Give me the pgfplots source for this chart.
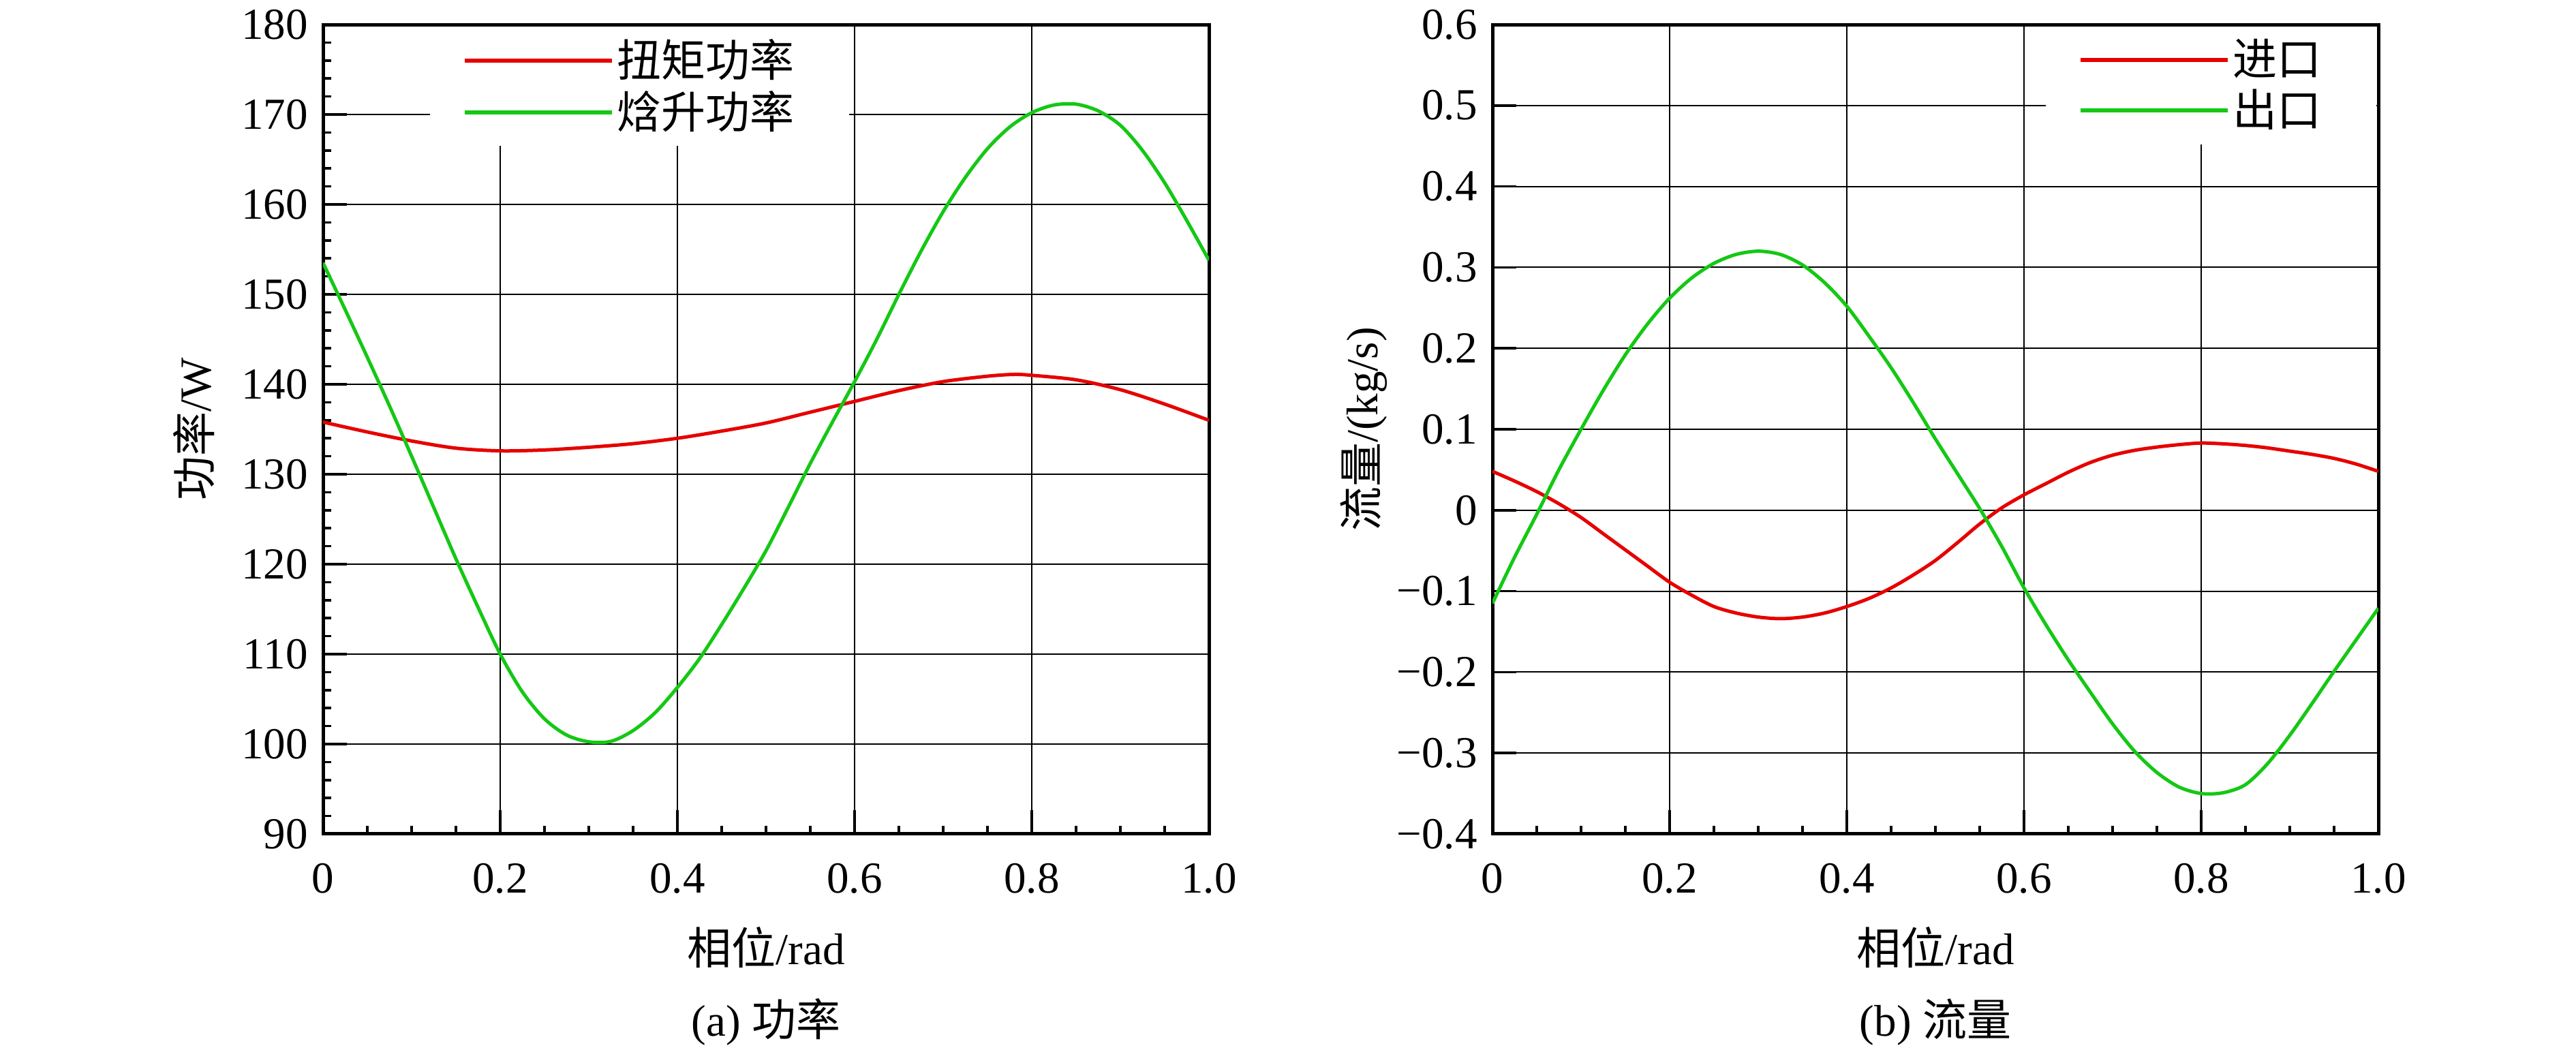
\documentclass[border=0pt]{standalone}
\usepackage{pgfplots}
\pgfplotsset{compat=1.18}
\usepackage{fontspec}
\setmainfont{Liberation Serif}
\newfontfamily\cjk{Noto Sans CJK SC}
\definecolor{cred}{RGB}{230,0,0}
\definecolor{cgreen}{RGB}{20,200,20}
\pgfplotsset{
 myaxis/.style={
  scale only axis, width=130mm, height=118.8mm, anchor=south west,
  xmin=0, xmax=1, xtick={0,0.2,0.4,0.6,0.8,1}, xticklabels={0,0.2,0.4,0.6,0.8,1.0},
  minor x tick num=3,
  tick pos=left, tick align=inside,
  major tick length=3.5mm, minor tick length=1.2mm,
  tick style={black, line width=0.35mm},
  grid=major, major grid style={black, line width=0.2mm},
  axis line style={line width=0.5mm},
  xticklabel style={yshift=-2.1mm},
  xlabel={{\cjk 相位}/rad},
  xlabel style={at={(axis description cs:0.5,0)}, anchor=center, yshift=-16.7mm},
  ylabel style={at={(axis description cs:-0.1454,0.5)}, anchor=center},
  legend cell align=left,
  legend image code/.code={\draw[##1, line width=0.6mm] (0mm,0mm) -- (21.6mm,0mm);},
  legend style={draw=none, fill=white, inner xsep=4.8mm, inner ysep=1.3mm, row sep=0.3mm,
    nodes={inner sep=0.5mm, text depth=0.12em},
    /tikz/every even column/.append style={column sep=1.9mm}},
 }
}
\begin{document}
\fontsize{18.5pt}{22pt}\selectfont
\begin{tikzpicture}
\path[use as bounding box] (0,0) rectangle (378mm,154.1mm);
\begin{axis}[myaxis, at={(47.4mm,31.7mm)},
  ymin=90, ymax=180, ytick={90,100,110,120,130,140,150,160,170,180},
  yticklabels={90,100,110,120,130,140,150,160,170,180},
  minor y tick num=4,
  ylabel={{\cjk 功率}/W},
  legend style={at={(0.12,1)}, anchor=north west, yshift=-0.25mm}]
\addplot[cred, line width=0.5mm, smooth] table {
0.00 135.8
0.05 134.7
0.10 133.7
0.15 132.9
0.20 132.6
0.25 132.7
0.30 133.0
0.35 133.4
0.40 134.0
0.45 134.8
0.50 135.7
0.55 136.9
0.60 138.1
0.65 139.3
0.70 140.3
0.75 140.9
0.78 141.1
0.80 141.0
0.85 140.5
0.90 139.4
0.95 137.8
1.00 136.0
};
\addlegendentry{{\cjk 扭矩功率}\hspace*{2.7mm}}
\addplot[cgreen, line width=0.5mm, smooth] table {
0.000 153.5
0.025 148.3
0.050 143.0
0.075 137.6
0.100 132.0
0.125 126.3
0.150 120.6
0.175 115.2
0.200 110.0
0.225 105.8
0.250 102.8
0.275 101.0
0.300 100.25
0.325 100.3
0.350 101.5
0.375 103.5
0.400 106.3
0.425 109.5
0.450 113.3
0.475 117.3
0.500 121.5
0.525 126.3
0.550 131.2
0.575 135.8
0.600 140.3
0.625 145.0
0.650 150.0
0.675 154.8
0.700 159.2
0.725 163.0
0.750 166.2
0.775 168.6
0.800 170.2
0.825 171.05
0.850 171.15
0.875 170.4
0.900 168.8
0.925 166.0
0.950 162.4
0.975 158.2
1.000 153.8
};
\addlegendentry{{\cjk 焓升功率}\hspace*{2.7mm}}
\end{axis}
\begin{axis}[myaxis, at={(219mm,31.7mm)},
  ymin=-0.4, ymax=0.6, ytick={-0.4,-0.3,-0.2,-0.1,0,0.1,0.2,0.3,0.4,0.5,0.6},
  yticklabels={−0.4,−0.3,−0.2,−0.1,0,0.1,0.2,0.3,0.4,0.5,0.6},
  minor y tick num=0,
  ylabel={{\cjk 流量}/(kg/s)},
  legend style={at={(1,1)}, anchor=north east, xshift=-0.25mm, yshift=-0.25mm}]
\addplot[cred, line width=0.5mm, smooth] table {
0.000 0.048
0.025 0.036
0.050 0.023
0.075 0.008
0.100 -0.009
0.125 -0.029
0.150 -0.049
0.175 -0.069
0.200 -0.089
0.225 -0.105
0.250 -0.119
0.275 -0.127
0.300 -0.132
0.325 -0.134
0.350 -0.132
0.375 -0.127
0.400 -0.119
0.425 -0.109
0.450 -0.096
0.475 -0.080
0.500 -0.062
0.525 -0.040
0.550 -0.017
0.575 0.003
0.600 0.019
0.625 0.033
0.650 0.047
0.675 0.059
0.700 0.068
0.725 0.074
0.750 0.078
0.775 0.081
0.800 0.083
0.825 0.082
0.850 0.080
0.875 0.077
0.900 0.073
0.925 0.069
0.950 0.064
0.975 0.057
1.000 0.048
};
\addlegendentry{{\cjk 进口}\hspace*{2.7mm}}
\addplot[cgreen, line width=0.5mm, smooth] table {
0.000 -0.115
0.025 -0.058
0.050 -0.005
0.075 0.050
0.100 0.100
0.125 0.148
0.150 0.192
0.175 0.230
0.200 0.262
0.225 0.287
0.250 0.305
0.275 0.316
0.300 0.320
0.325 0.316
0.350 0.303
0.375 0.281
0.400 0.252
0.425 0.215
0.450 0.176
0.475 0.133
0.500 0.088
0.525 0.045
0.550 0.002
0.575 -0.045
0.600 -0.096
0.625 -0.142
0.650 -0.185
0.675 -0.225
0.700 -0.264
0.725 -0.298
0.750 -0.324
0.775 -0.342
0.800 -0.350
0.825 -0.349
0.850 -0.339
0.875 -0.313
0.900 -0.278
0.925 -0.239
0.950 -0.199
0.975 -0.160
1.000 -0.121
};
\addlegendentry{{\cjk 出口}\hspace*{2.7mm}}
\end{axis}
\node at (112.4mm,4.1mm) {(a) {\cjk 功率}};
\node at (284.0mm,4.1mm) {(b) {\cjk 流量}};
\end{tikzpicture}
\end{document}
